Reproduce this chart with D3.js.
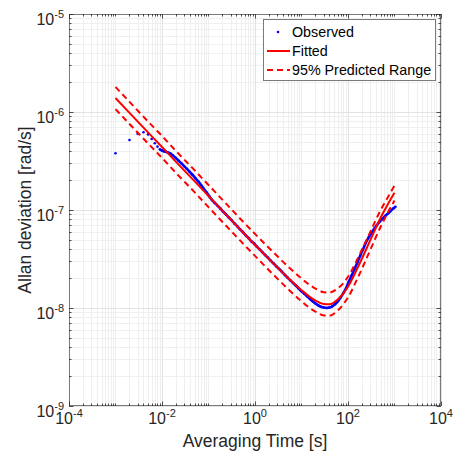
<!DOCTYPE html>
<html>
<head>
<meta charset="utf-8">
<script src="https://cdn.jsdelivr.net/npm/d3@7"></script>
<style>
  html, body { margin: 0; padding: 0; background: #fff; }
  svg { display: block; font-family: "Liberation Sans", Arial, Helvetica, sans-serif; }
</style>
</head>
<body>
<svg id="chart" width="455" height="459"></svg>
<script>
// ---------------- DATA ----------------
const xTickExponents = [-4, -2, 0, 2, 4];
const yTickExponents = [-9, -8, -7, -6, -5];

// Observed Allan deviation (tau [s], sigma [rad/s])
const obsTau = [0.001,0.002,0.003,0.004,0.005,0.006,0.007,0.008,0.009,0.010,0.011,0.012,0.013,0.015,0.017,0.020,0.023,0.026,0.030,0.034,0.039,0.045,0.052,0.060,0.069,0.079,0.091,0.105,0.120,0.138,0.158,0.182,0.209,0.240,0.275,0.316,0.363,0.417,0.479,0.550,0.631,0.724,0.832,0.955,1.10,1.26,1.45,1.66,1.91,2.19,2.51,2.88,3.31,3.80,4.37,5.01,5.75,6.61,7.59,8.71,10.0,11.5,13.2,15.1,17.4,20.0,22.9,26.3,30.2,34.7,39.8,45.7,52.5,60.3,69.2,79.4,91.2,105,120,138,158,182,209,240,275,316,363,417,479,550,631,724,832,955,1050];
const obsSigma = [3.79e-7,5.18e-7,6.01e-7,6.21e-7,5.91e-7,5.30e-7,4.80e-7,4.43e-7,4.16e-7,4.05e-7,3.98e-7,3.93e-7,3.88e-7,3.78e-7,3.62e-7,3.38e-7,3.17e-7,3.00e-7,2.80e-7,2.64e-7,2.46e-7,2.29e-7,2.12e-7,1.96e-7,1.80e-7,1.65e-7,1.51e-7,1.37e-7,1.26e-7,1.175e-7,1.10e-7,1.03e-7,9.55e-8,8.98e-8,8.35e-8,7.85e-8,7.28e-8,6.82e-8,6.33e-8,5.95e-8,5.52e-8,5.18e-8,4.80e-8,4.55e-8,4.22e-8,3.96e-8,3.70e-8,3.46e-8,3.25e-8,3.03e-8,2.85e-8,2.66e-8,2.50e-8,2.34e-8,2.18e-8,2.04e-8,1.92e-8,1.80e-8,1.69e-8,1.58e-8,1.48e-8,1.40e-8,1.32e-8,1.24e-8,1.17e-8,1.11e-8,1.065e-8,1.03e-8,1.01e-8,1.00e-8,1.01e-8,1.04e-8,1.09e-8,1.17e-8,1.28e-8,1.42e-8,1.60e-8,1.87e-8,2.15e-8,2.50e-8,2.90e-8,3.40e-8,3.95e-8,4.60e-8,5.20e-8,5.80e-8,6.40e-8,7.00e-8,7.60e-8,8.10e-8,8.70e-8,9.20e-8,9.80e-8,1.04e-7,1.08e-7];

// Fitted curve and 95% predicted range
const fitTau   = [0.001,0.002,0.005,0.01,0.02,0.05,0.1,0.2,0.5,1,2,5,10,15,20,30,40,60,80,100,150,200,300,500,700,1000];
const fitSigma = [1.39e-6,9.8e-7,6.2e-7,4.4e-7,3.1e-7,1.97e-7,1.39e-7,9.8e-8,6.2e-8,4.4e-8,3.15e-8,2.05e-8,1.52e-8,1.30e-8,1.19e-8,1.10e-8,1.09e-8,1.22e-8,1.42e-8,1.65e-8,2.40e-8,3.20e-8,4.90e-8,8.30e-8,1.12e-7,1.50e-7];
const upperSigma = [1.8e-6,1.27e-6,8.0e-7,5.7e-7,4.0e-7,2.55e-7,1.8e-7,1.27e-7,8.0e-8,5.7e-8,4.1e-8,2.68e-8,2.0e-8,1.72e-8,1.58e-8,1.45e-8,1.44e-8,1.58e-8,1.80e-8,2.08e-8,2.98e-8,3.95e-8,5.95e-8,9.9e-8,1.32e-7,1.78e-7];
const lowerSigma = [1.07e-6,7.55e-7,4.78e-7,3.4e-7,2.39e-7,1.52e-7,1.07e-7,7.55e-8,4.78e-8,3.4e-8,2.43e-8,1.58e-8,1.17e-8,1.0e-8,9.2e-9,8.4e-9,8.35e-9,9.4e-9,1.1e-8,1.28e-8,1.88e-8,2.52e-8,3.9e-8,6.7e-8,9.2e-8,1.25e-7];

const legendLabels = ["Observed", "Fitted", "95% Predicted Range"];
const xLabel = "Averaging Time [s]";
const yLabel = "Allan deviation [rad/s]";

// ---------------- LAYOUT ----------------
const L = 69, R = 441, T = 14, B = 406;
const svg = d3.select("#chart");
const x = d3.scaleLog().domain([1e-4, 1e4]).range([L, R]);
const y = d3.scaleLog().domain([1e-9, 1e-5]).range([B, T]);
const axisColor = "#262626";

// grid positions
const xDecades = d3.range(-4, 5).map(e => Math.pow(10, e));
const yDecades = d3.range(-9, -4).map(e => Math.pow(10, e));
const xMinor = [], yMinor = [];
xDecades.slice(0, -1).forEach(d => { for (let k = 2; k <= 9; k++) xMinor.push(d * k); });
yDecades.slice(0, -1).forEach(d => { for (let k = 2; k <= 9; k++) yMinor.push(d * k); });
const xMajor = xTickExponents.map(e => Math.pow(10, e));
const xOddDec = xDecades.filter(d => !xMajor.includes(d));

const gGrid = svg.append("g");
// minor grid
gGrid.selectAll(".xmin").data(xMinor.concat(xOddDec)).enter().append("line")
  .attr("x1", d => Math.round(x(d)) + 0.5).attr("x2", d => Math.round(x(d)) + 0.5)
  .attr("y1", T).attr("y2", B).attr("stroke", "#efefef").attr("stroke-width", 1);
gGrid.selectAll(".ymin").data(yMinor).enter().append("line")
  .attr("y1", d => Math.round(y(d)) + 0.5).attr("y2", d => Math.round(y(d)) + 0.5)
  .attr("x1", L).attr("x2", R).attr("stroke", "#efefef").attr("stroke-width", 1);
// major grid
gGrid.selectAll(".xmaj").data(xMajor).enter().append("line")
  .attr("x1", d => Math.round(x(d)) + 0.5).attr("x2", d => Math.round(x(d)) + 0.5)
  .attr("y1", T).attr("y2", B).attr("stroke", "#e2e2e2").attr("stroke-width", 1);
gGrid.selectAll(".ymaj").data(yDecades).enter().append("line")
  .attr("y1", d => Math.round(y(d)) + 0.5).attr("y2", d => Math.round(y(d)) + 0.5)
  .attr("x1", L).attr("x2", R).attr("stroke", "#e2e2e2").attr("stroke-width", 1);

// ---------------- SERIES ----------------
const obs = obsTau.map((t, i) => ({ t, s: obsSigma[i] }));
const lineGen = d3.line().x(d => x(d.t)).y(d => y(d.s)).curve(d3.curveMonotoneX);

// observed: dots, dense part connected visually
svg.append("path")
  .datum(obs.filter(d => d.t >= 0.0085))
  .attr("d", lineGen).attr("fill", "none").attr("stroke", "#0000ff").attr("stroke-width", 2.6)
  .attr("stroke-linejoin", "round");
svg.selectAll(".obs").data(obs).enter().append("circle")
  .attr("cx", d => x(d.t)).attr("cy", d => y(d.s)).attr("r", 1.3).attr("fill", "#0000ff");

const fit = fitTau.map((t, i) => ({ t, s: fitSigma[i] }));
const up = fitTau.map((t, i) => ({ t, s: upperSigma[i] }));
const lo = fitTau.map((t, i) => ({ t, s: lowerSigma[i] }));

svg.append("path").datum(fit).attr("d", lineGen).attr("fill", "none")
  .attr("stroke", "#ff0000").attr("stroke-width", 2);
[up, lo].forEach(dat => {
  svg.append("path").datum(dat).attr("d", lineGen).attr("fill", "none")
    .attr("stroke", "#ff0000").attr("stroke-width", 2).attr("stroke-dasharray", "6,4");
});

// ---------------- AXES BOX & TICKS ----------------
const gAx = svg.append("g").attr("stroke", axisColor).attr("stroke-width", 0.8).attr("fill", "none");
gAx.append("rect").attr("x", L + 0.5).attr("y", T + 0.5).attr("width", R - L - 1).attr("height", B - T - 1)
  .attr("stroke", "#7a7a7a").attr("stroke-width", 1);
const majLen = 4.5, minLen = 2.5;
function xTicks(vals, len) {
  vals.forEach(v => {
    const px = Math.round(x(v)) + 0.5;
    gAx.append("line").attr("x1", px).attr("x2", px).attr("y1", B).attr("y2", B - len);
    gAx.append("line").attr("x1", px).attr("x2", px).attr("y1", T).attr("y2", T + len);
  });
}
function yTicks(vals, len) {
  vals.forEach(v => {
    const py = Math.round(y(v)) + 0.5;
    gAx.append("line").attr("y1", py).attr("y2", py).attr("x1", L).attr("x2", L + len);
    gAx.append("line").attr("y1", py).attr("y2", py).attr("x1", R).attr("x2", R - len);
  });
}
xTicks(xMajor, majLen); xTicks(xMinor.concat(xOddDec), minLen);
yTicks(yDecades, majLen); yTicks(yMinor, minLen);

// tick labels
const labColor = "#262626";
xTickExponents.forEach(e => {
  const t = svg.append("text").attr("x", x(Math.pow(10, e))).attr("y", 424)
    .attr("text-anchor", "middle").attr("fill", labColor).attr("font-size", 16);
  t.append("tspan").text("10");
  t.append("tspan").attr("dy", -7).attr("font-size", 11).text(String(e));
});
yTickExponents.forEach(e => {
  const t = svg.append("text").attr("x", 64).attr("y", y(Math.pow(10, e)) + 11)
    .attr("text-anchor", "end").attr("fill", labColor).attr("font-size", 16);
  t.append("tspan").text("10");
  t.append("tspan").attr("dy", -7).attr("font-size", 11).text(String(e));
});

// axis labels
svg.append("text").attr("x", (L + R) / 2).attr("y", 447).attr("text-anchor", "middle")
  .attr("fill", labColor).attr("font-size", 17.5).text(xLabel);
svg.append("text").attr("transform", `translate(31,${(T + B) / 2}) rotate(-90)`)
  .attr("text-anchor", "middle").attr("fill", labColor).attr("font-size", 17.5).text(yLabel);

// ---------------- LEGEND ----------------
const lg = svg.append("g");
lg.append("rect").attr("x", 263.5).attr("y", 19.5).attr("width", 172).attr("height", 61)
  .attr("fill", "#fff").attr("stroke", "#7a7a7a").attr("stroke-width", 1);
const rowY = [32, 51, 70];
lg.append("circle").attr("cx", 278).attr("cy", rowY[0]).attr("r", 1.3).attr("fill", "#0000ff");
lg.append("line").attr("x1", 267).attr("x2", 290).attr("y1", rowY[1]).attr("y2", rowY[1])
  .attr("stroke", "#ff0000").attr("stroke-width", 2);
lg.append("line").attr("x1", 267).attr("x2", 290).attr("y1", rowY[2]).attr("y2", rowY[2])
  .attr("stroke", "#ff0000").attr("stroke-width", 2).attr("stroke-dasharray", "6,4");
legendLabels.forEach((s, i) => {
  lg.append("text").attr("x", 292).attr("y", rowY[i] + 5).attr("fill", "#000")
    .attr("font-size", 14.3).text(s);
});
</script>
</body>
</html>
